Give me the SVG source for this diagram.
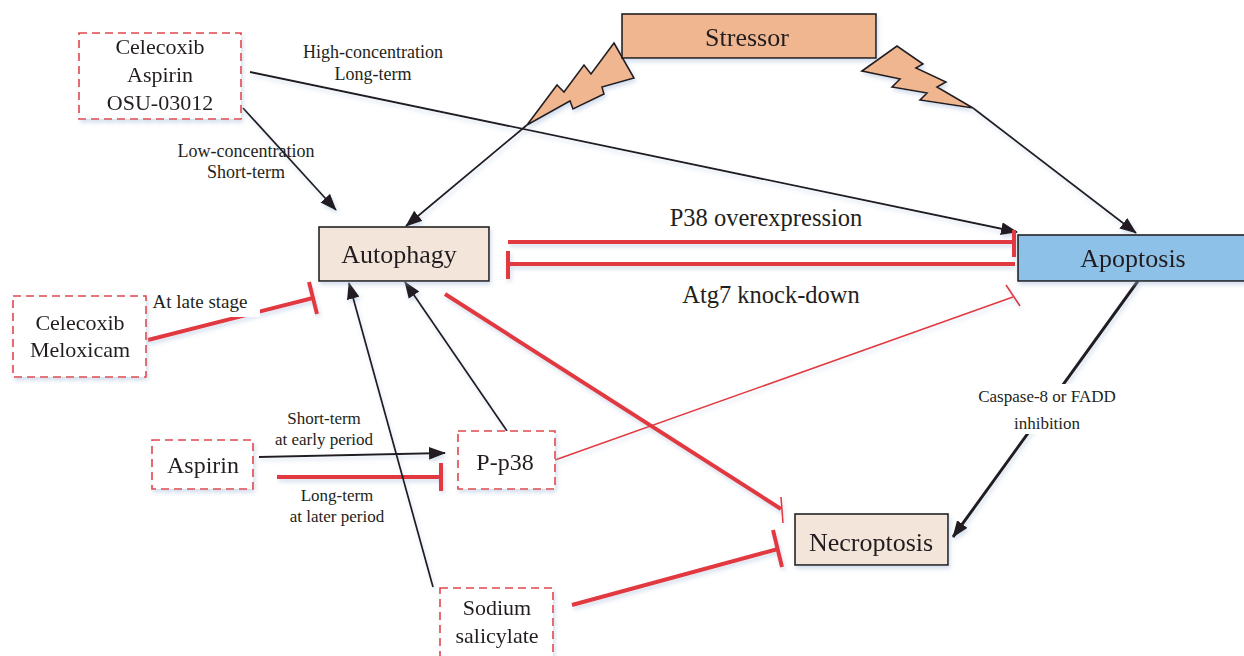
<svg xmlns="http://www.w3.org/2000/svg" width="1244" height="656" viewBox="0 0 1244 656">
<defs>
<style>
text{font-family:"Liberation Serif","Times New Roman",serif;fill:#231F20;text-anchor:middle}
.node{font-size:26px}
.drug{font-size:22px}
.lbl{font-size:17px}
.lbl2{font-size:18px}
.big{font-size:24.5px}
.box{stroke:#231F20;stroke-width:1.6}
.dash{fill:#fff;stroke:#E0474C;stroke-width:1.6;stroke-dasharray:8 5}
.blk{stroke:#231F20;stroke-width:1.8;fill:none}
.red{stroke:#E2393F;stroke-width:4;fill:none}
.redt{stroke:#E2393F;stroke-width:1.6;fill:none}
</style>
<marker id="ah" markerUnits="userSpaceOnUse" markerWidth="17" markerHeight="13" refX="16" refY="6.5" orient="auto">
<path d="M0,0 L17,6.5 L0,13 z" fill="#231F20"/>
</marker>
<filter id="sh" x="-20%" y="-20%" width="140%" height="160%">
<feDropShadow dx="1.5" dy="3" stdDeviation="2" flood-color="#9FB6D6" flood-opacity="0.45"/>
</filter>
</defs>
<rect width="1244" height="656" fill="#fff"/>

<g id="connectors" filter="url(#sh)">
<line class="blk" x1="527" y1="125" x2="406" y2="226" marker-end="url(#ah)"/>
<line class="blk" x1="973" y1="108" x2="1136" y2="233" marker-end="url(#ah)"/>
<line class="blk" x1="250" y1="72" x2="1017" y2="232" marker-end="url(#ah)"/>
<line class="blk" x1="243" y1="108" x2="336" y2="210" marker-end="url(#ah)"/>
<line class="red" x1="508" y1="242" x2="1014" y2="242"/>
<line class="red" x1="1014" y1="230" x2="1014" y2="257"/>
<line class="red" x1="1015" y1="264" x2="508" y2="264"/>
<line class="red" x1="508" y1="251" x2="508" y2="279"/>
<line class="red" x1="148" y1="340" x2="313" y2="298"/>
<line class="red" x1="309" y1="282" x2="317" y2="314"/>
<line class="blk" x1="259" y1="457" x2="445" y2="453" marker-end="url(#ah)"/>
<line class="red" x1="277" y1="477" x2="441" y2="477"/>
<line class="red" x1="441" y1="463" x2="441" y2="491"/>
<line class="blk" x1="507" y1="431" x2="405" y2="282" marker-end="url(#ah)"/>
<line class="redt" x1="555" y1="460" x2="1013" y2="297"/>
<line class="redt" x1="1006" y1="285" x2="1020" y2="306"/>
<line class="red" x1="445" y1="294" x2="781" y2="509"/>
<line class="redt" x1="781" y1="497" x2="783" y2="523"/>
<line class="blk" x1="433" y1="587" x2="349" y2="283" marker-end="url(#ah)"/>
<line class="red" x1="572" y1="605" x2="778" y2="549"/>
<line class="red" x1="773" y1="530" x2="782" y2="567"/>
<line class="blk" style="stroke-width:3" x1="1138" y1="281" x2="953" y2="537" marker-end="url(#ah)"/>
</g>

<g id="label-high">
<text class="lbl2" x="373" y="58">High-concentration</text>
<text class="lbl2" x="373" y="80">Long-term</text>
</g>
<g id="label-low">
<text class="lbl2" x="246" y="157">Low-concentration</text>
<text class="lbl2" x="246" y="178">Short-term</text>
</g>
<g id="label-p38">
<text class="big" x="766" y="226">P38 overexpression</text>
</g>
<g id="label-atg7">
<text class="big" x="771" y="303">Atg7 knock-down</text>
</g>
<g id="label-late">
<rect x="147" y="287" width="113" height="30" fill="#fff"/>
<text style="font-size:19px" x="200" y="308">At late stage</text>
</g>
<g id="label-short">
<text class="lbl" x="324" y="424">Short-term</text>
<text class="lbl" x="324" y="445">at early period</text>
</g>
<g id="label-long">
<text class="lbl" x="337" y="501">Long-term</text>
<text class="lbl" x="337" y="522">at later period</text>
</g>
<g id="label-caspase">
<rect x="975" y="384" width="144" height="50" fill="#fff"/>
<text class="lbl" x="1047" y="402">Caspase-8 or FADD</text>
<text class="lbl" x="1047" y="429">inhibition</text>
</g>

<g id="stressor" filter="url(#sh)">
<path class="box" fill="#F0B690" d="M614,43 L634,78 L602,87 L604,94 L573,109 L570,101 L527,125 L557,85 L564,92 L584,65 L591,74 Z"/>
<path class="box" fill="#F0B690" d="M862,71 L897,46 L923,64 L916,68 L946,82 L937,87 L973,108 L920,100 L927,93 L892,87 L900,79 Z"/>
<rect class="box" fill="#F0B690" x="622" y="14" width="254" height="44"/>
<text class="node" x="747" y="46">Stressor</text>
</g>

<g id="drugs1" filter="url(#sh)">
<rect class="dash" x="79" y="33" width="162" height="86"/>
<text class="drug" x="160" y="54">Celecoxib</text>
<text class="drug" x="160" y="82">Aspirin</text>
<text class="drug" x="160" y="110">OSU-03012</text>
</g>

<g id="autophagy" filter="url(#sh)">
<rect class="box" fill="#F3E5D9" x="319" y="227" width="170" height="54"/>
<text class="node" x="399" y="263">Autophagy</text>
</g>

<g id="apoptosis" filter="url(#sh)">
<rect class="box" fill="#8EC1E8" x="1018" y="235" width="232" height="46"/>
<text class="node" x="1133" y="267">Apoptosis</text>
</g>

<g id="drugs2" filter="url(#sh)">
<rect class="dash" x="13" y="296" width="133" height="81"/>
<text class="drug" x="80" y="330">Celecoxib</text>
<text class="drug" x="80" y="357">Meloxicam</text>
</g>

<g id="aspirin" filter="url(#sh)">
<rect class="dash" x="152" y="440" width="101" height="49"/>
<text style="font-size:24px" x="203" y="473">Aspirin</text>
</g>

<g id="pp38" filter="url(#sh)">
<rect class="dash" x="458" y="431" width="97" height="58"/>
<text style="font-size:24px" x="505" y="470">P-p38</text>
</g>

<g id="necroptosis" filter="url(#sh)">
<rect class="box" fill="#F3E5D9" x="795" y="514" width="153" height="51"/>
<text class="node" x="871" y="551">Necroptosis</text>
</g>

<g id="sodium" filter="url(#sh)">
<rect class="dash" x="440" y="588" width="113" height="72"/>
<text class="drug" x="497" y="615">Sodium</text>
<text class="drug" x="497" y="643">salicylate</text>
</g>
</svg>
